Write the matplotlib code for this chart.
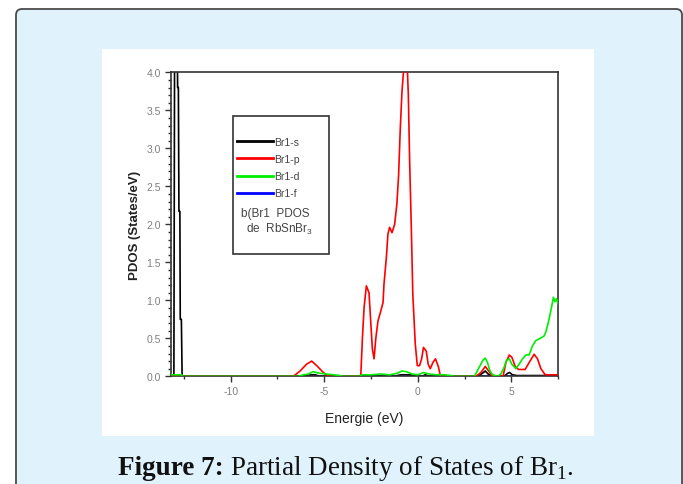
import matplotlib
matplotlib.use("Agg")
import matplotlib.pyplot as plt
from matplotlib.patches import FancyBboxPatch, Rectangle
from matplotlib.transforms import IdentityTransform
from matplotlib.ticker import MultipleLocator, FormatStrFormatter

plt.rcParams["font.family"] = ["Liberation Sans", "DejaVu Sans"]
plt.rcParams["axes.unicode_minus"] = False

# ---------- data ----------
# Br1-s (black)
e_s = [-13.2, -13.03, -12.99, -12.86, -12.83, -12.79, -12.76, -12.71, -12.69, -12.63,
       -12.59, -6.0, -5.7, -5.5, -5.2, -1.3, -0.9, -0.5, 0.2, 0.4, 0.6, 3.2, 3.45,
       3.6, 3.75, 3.95, 4.6, 4.8, 4.9, 5.05, 5.3, 7.5]
s_vals = [0, 0, 4.6, 4.6, 3.8, 3.8, 2.17, 2.17, 0.75, 0.75,
          0, 0, 0.02, 0.02, 0, 0, 0.02, 0.02, 0, 0.02, 0, 0, 0.04,
          0.07, 0.03, 0, 0, 0.04, 0.05, 0.02, 0.01, 0.01]

# Br1-p (red)
e_p = [-13.2, -6.65, -6.29, -5.94, -5.67, -5.40, -5.05, -4.79, -3.1, -3.05,
       -2.96, -2.87, -2.75, -2.61, -2.52, -2.43, -2.34, -2.25, -2.13, -2.0,
       -1.86, -1.81, -1.68, -1.60, -1.51, -1.38, -1.24, -1.12, -1.03, -0.94,
       -0.85, -0.74, -0.62, -0.57, -0.51, -0.44, -0.35, -0.27, -0.14, -0.03,
       0.09, 0.20, 0.30, 0.45, 0.55, 0.66, 0.80, 0.94, 1.09, 1.21,
       3.1, 3.37, 3.6, 3.78, 3.95, 4.55, 4.7, 4.88, 5.02, 5.2,
       5.37, 5.73, 5.94, 6.21, 6.39, 6.57, 6.8, 7.5]
p_vals = [0, 0, 0.07, 0.16, 0.2, 0.14, 0.05, 0, 0, 0,
          0.51, 0.91, 1.19, 1.10, 0.73, 0.36, 0.23, 0.49, 0.73, 0.84,
          0.97, 1.21, 1.57, 1.87, 1.96, 1.89, 2.0, 2.27, 2.64, 3.25,
          3.74, 4.1, 4.2, 4.1, 3.71, 2.84, 1.96, 1.08, 0.43, 0.14,
          0.14, 0.23, 0.38, 0.33, 0.16, 0.10, 0.18, 0.23, 0.13, 0,
          0, 0.05, 0.13, 0.07, 0.01, 0, 0.18, 0.28, 0.25, 0.13,
          0.09, 0.09, 0.18, 0.29, 0.23, 0.10, 0.02, 0.02]

# Br1-d (green)
e_d = [-13.2, -12.6, -12.58, -6.4, -6.1, -5.85, -5.6, -5.25, -4.9, -4.5,
       -4.16, -4.0, -3.1, -3.0, -2.5, -2.0, -1.5, -1.1, -0.85, -0.6,
       -0.3, 0.0, 0.3, 0.6, 1.0, 1.4, 1.8, 1.9, 3.02, 3.28,
       3.47, 3.6, 3.72, 3.85, 3.99, 4.26, 4.43, 4.61, 4.73, 4.88,
       5.02, 5.23, 5.41, 5.59, 5.77, 5.94, 6.12, 6.30, 6.53, 6.74,
       6.83, 6.97, 7.10, 7.24, 7.32, 7.4, 7.5]
d_vals = [0.02, 0.02, 0, 0, 0.02, 0.03, 0.06, 0.04, 0.03, 0.02,
          0.01, 0, 0, 0.02, 0.02, 0.03, 0.02, 0.04, 0.07, 0.06,
          0.03, 0.02, 0.05, 0.03, 0.02, 0.02, 0.01, 0, 0, 0.12,
          0.21, 0.24, 0.18, 0.07, 0.02, 0, 0.03, 0.12, 0.21, 0.23,
          0.16, 0.10, 0.16, 0.23, 0.28, 0.28, 0.40, 0.47, 0.50, 0.53,
          0.58, 0.71, 0.86, 1.04, 0.98, 1.02, 0.95]

# Br1-f (blue) - flat at zero
e_f = [-13.2, 7.5]
f_vals = [0, 0]

W, H = 683, 485
fig = plt.figure(figsize=(W / 100, H / 100), dpi=100, facecolor="white")

# page decoration: light blue rounded box + white picture panel (behind the axes)
fig.patches.append(FancyBboxPatch((16, -20), 666, 495,
                                  boxstyle="round,pad=0,rounding_size=6",
                                  transform=IdentityTransform(), figure=fig,
                                  facecolor="#e0f2fc", edgecolor="#4a4a4a", lw=1.3,
                                  zorder=-10))
fig.patches.append(Rectangle((102, H - 437), 492, 387, transform=IdentityTransform(),
                             figure=fig, facecolor="white", edgecolor="none",
                             zorder=-9))

ax = fig.add_axes([170.7 / W, (H - 377.3) / H, 387.6 / W, 304 / H])
ax.set_facecolor("white")

ax.plot(e_f, f_vals, color="#0000ff", lw=1.2, label="Br1-f", zorder=1)
ax.plot(e_s, s_vals, color="black", lw=1.2, label="Br1-s", zorder=2)
ax.plot(e_p, p_vals, color="#ff0000", lw=1.2, label="Br1-p", zorder=3)
ax.plot(e_d, d_vals, color="#00ee00", lw=1.2, label="Br1-d", zorder=4)

ax.set_xlim(-13.2, 7.5)
ax.set_ylim(0, 4.0)
ax.xaxis.set_major_locator(MultipleLocator(5))
ax.xaxis.set_minor_locator(MultipleLocator(2.5))
ax.yaxis.set_major_locator(MultipleLocator(0.5))
ax.yaxis.set_minor_locator(MultipleLocator(0.1))
ax.yaxis.set_major_formatter(FormatStrFormatter("%.1f"))
ax.tick_params(which="both", direction="out", top=False, right=False,
               colors="#333333", labelcolor="#808080", labelsize=7.5, width=1)
ax.tick_params(which="major", length=4, pad=3)
ax.tick_params(which="minor", length=2)
for sp in ax.spines.values():
    sp.set_color("#333333")
    sp.set_linewidth(1.2)

ax.set_xlabel("Energie (eV)", fontsize=10, color="#222222", labelpad=11)
ax.set_ylabel("PDOS (States/eV)", fontsize=9.5, fontweight="bold",
              color="#222222", labelpad=4)

# legend box
h = {l.get_label(): l for l in ax.get_lines()}
order = ["Br1-s", "Br1-p", "Br1-d", "Br1-f"]
leg = ax.legend([h[k] for k in order], order, loc="upper left",
                bbox_to_anchor=(0.172, 0.787), frameon=False, fontsize=7.5,
                handlelength=3.4, handletextpad=0.1, labelspacing=0.68,
                borderpad=0, borderaxespad=0)
for t in leg.get_texts():
    t.set_color("#444444")
for ln in leg.get_lines():
    ln.set_linewidth(2)
ax.add_patch(Rectangle((0.1615, 0.402), 0.2469, 0.453, transform=ax.transAxes,
                       facecolor="none", edgecolor="#333333", lw=1.2, zorder=5))
ax.text(0.182, (377.3 - 214.3) / 304, "b(Br1  PDOS", transform=ax.transAxes,
        fontsize=8.5, color="#444444", va="center", ha="left")
ax.text(0.193, (377.3 - 229.3) / 304, r"de  RbSnBr$_\mathregular{3}$",
        transform=ax.transAxes, fontsize=8.5, color="#444444", va="center", ha="left")

# caption
t1 = fig.text(118 / W, (H - 475) / H, "Figure 7:", fontsize=19.5, fontweight="bold",
              family=["Liberation Serif", "DejaVu Serif"], color="#111111",
              va="baseline", ha="left")
fig.canvas.draw()
bb = t1.get_window_extent()
fig.text((bb.x1 + 6) / W, (H - 475) / H,
         r"Partial Density of States of Br$_\mathregular{1}$.", fontsize=19.5,
         family=["Liberation Serif", "DejaVu Serif"], color="#111111",
         va="baseline", ha="left")

fig.savefig("out.png", dpi=100)
